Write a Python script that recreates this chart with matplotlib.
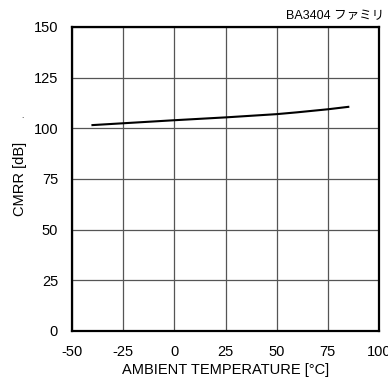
import matplotlib
matplotlib.use('Agg')
import matplotlib.pyplot as plt

plt.rcParams['font.family'] = ['Liberation Sans', 'Noto Sans CJK JP', 'DejaVu Sans']
plt.rcParams['axes.unicode_minus'] = False

temp = [-40, -25, 0, 25, 50, 60, 75, 85]
cmrr = [101.6, 102.5, 104.0, 105.4, 107.0, 107.9, 109.4, 110.6]
xticks = [-50, -25, 0, 25, 50, 75, 100]
yticks = [0, 25, 50, 75, 100, 125, 150]

fig = plt.figure(figsize=(3.88, 3.87), dpi=100)
ax = fig.add_axes([72/388, 1-331/387, 307/388, 304/387])

ax.plot(temp, cmrr, color='black', lw=1.5)
ax.set_xlim(-50, 100)
ax.set_ylim(0, 150)
ax.set_xticks(xticks)
ax.set_yticks(yticks)
ax.grid(True, color='#555555', lw=0.9)
ax.tick_params(length=0, labelsize=10.5, pad=10)
for s in ax.spines.values():
    s.set_linewidth(1.6)
    s.set_color('black')

ax.set_xlabel('AMBIENT TEMPERATURE [°C]', fontsize=10.5, labelpad=3)
ax.set_ylabel('CMRR [dB]', fontsize=10.5, labelpad=5)
fig.text(0.99, 0.975, 'BA3404 ファミリ', ha='right', va='top', fontsize=9)
fig.text(22/388, 1-120/387, '.', fontsize=6, ha='center', va='bottom')

fig.savefig('out.png', dpi=100)
